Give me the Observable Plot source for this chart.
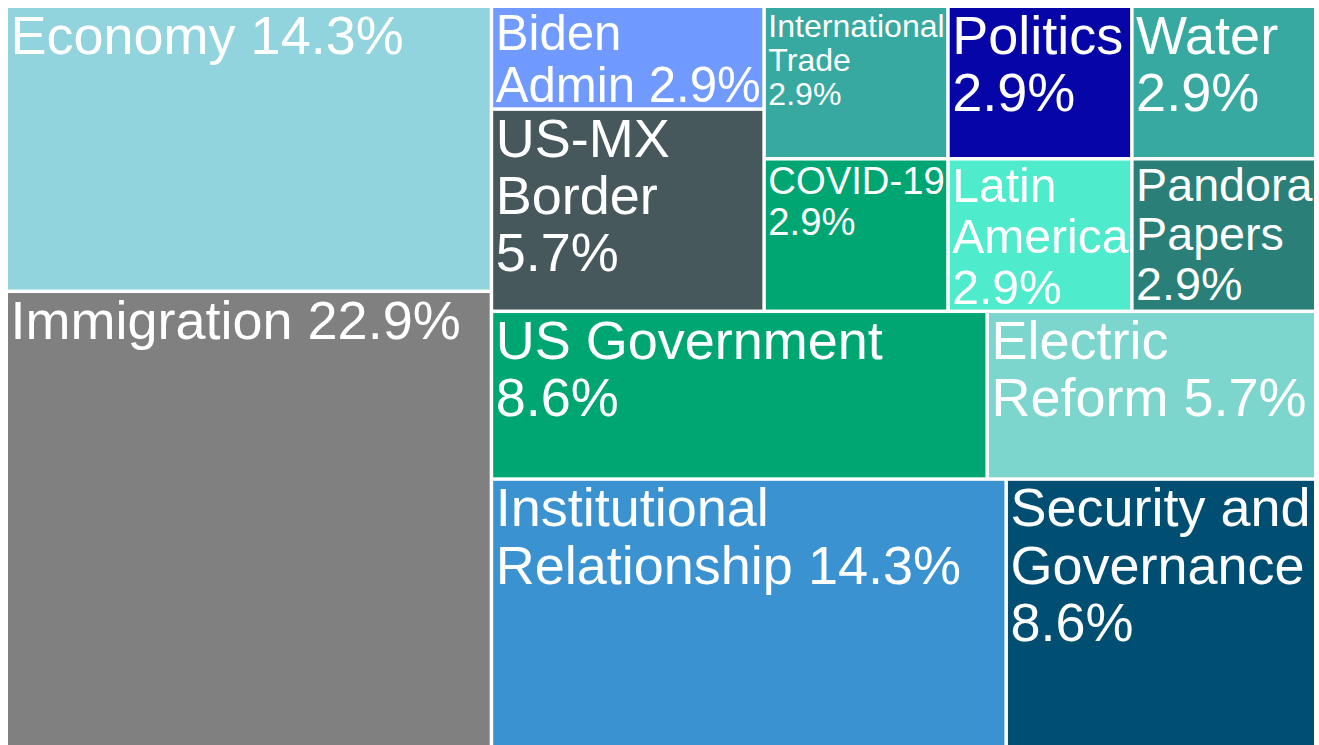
<!DOCTYPE html>
<html><head><meta charset="utf-8">
<script src="https://cdn.jsdelivr.net/npm/d3@7"></script>
<script src="https://cdn.jsdelivr.net/npm/@observablehq/plot@0.6"></script>
<style>html,body{margin:0;padding:0;background:#fff;overflow:hidden}</style>
</head><body><div id="chart"></div>
<script>
// Data (share of items, %)
const topics = ["Immigration","Economy","Institutional Relationship","Security and Governance","US Government","Electric Reform","US-MX Border","Biden Admin","COVID-19","International Trade","Latin America","Pandora Papers","Politics","Water"];
const shares = [22.9,14.3,14.3,8.6,8.6,5.7,5.7,2.9,2.9,2.9,2.9,2.9,2.9,2.9];
const labels = ["Immigration 22.9%","Economy 14.3%","Institutional\nRelationship 14.3%","Security and\nGovernance\n8.6%","US Government\n8.6%","Electric\nReform 5.7%","US-MX\nBorder\n5.7%","Biden\nAdmin 2.9%","COVID-19\n2.9%","International\nTrade\n2.9%","Latin\nAmerica\n2.9%","Pandora\nPapers\n2.9%","Politics\n2.9%","Water\n2.9%"];
const colors = ["#808080","#92d4dd","#3a92d0","#004e72","#00a672","#7dd6ce","#47585c","#709aff","#00a672","#37a9a0","#4eebcd","#2a7f78","#0505a8","#37a9a0"];

const W = 1319, H = 745;
const xr = [6.25, 1315.75], yr = [747.75, 6.25];
const inset = 1.75, pad = 2, maxSize = 54, lh = 1.06;
const font = "'Liberation Sans', Arial, Helvetica, sans-serif";

const root = d3.hierarchy({children: topics.map((t, i) => ({topic: t, share: shares[i], label: labels[i], color: colors[i]}))})
  .sum(d => d.share || 0);
d3.treemap().tile(d3.treemapSquarify.ratio(1)).size([1, 1]).round(false)(root);
const tiles = root.leaves().map(n => ({...n.data, x0: n.x0, x1: n.x1, y0: n.y0, y1: n.y1}));

const ctx = document.createElement("canvas").getContext("2d");
ctx.font = "100px " + font;
tiles.forEach(t => {
  const w = (t.x1 - t.x0) * (xr[1] - xr[0]) - 2 * inset - 2 * pad;
  const h = (t.y1 - t.y0) * (yr[0] - yr[1]) - 2 * inset - pad;
  const lines = t.label.split("\n");
  const mw = Math.max(...lines.map(l => ctx.measureText(l).width / 100));
  t.size = Math.min(maxSize, w / mw, h / (lines.length * 0.95));
});

const chart = Plot.plot({
  width: W, height: H, margin: 0,
  style: {background: "#fff", fontFamily: font},
  x: {domain: [0, 1], range: xr, axis: null},
  y: {domain: [0, 1], range: yr, axis: null},
  color: {type: "identity"},
  marks: [
    Plot.rect(tiles, {x1: "x0", x2: "x1", y1: "y0", y2: "y1", fill: "color", inset}),
    Plot.text(tiles, {x: "x0", y: "y1", text: "label", fill: "white", fontSize: "size",
      textAnchor: "start", lineAnchor: "top", lineHeight: lh, dx: inset + pad, dy: inset + 4.5, fontFamily: font})
  ]
});
document.getElementById("chart").appendChild(chart);
</script></body></html>
